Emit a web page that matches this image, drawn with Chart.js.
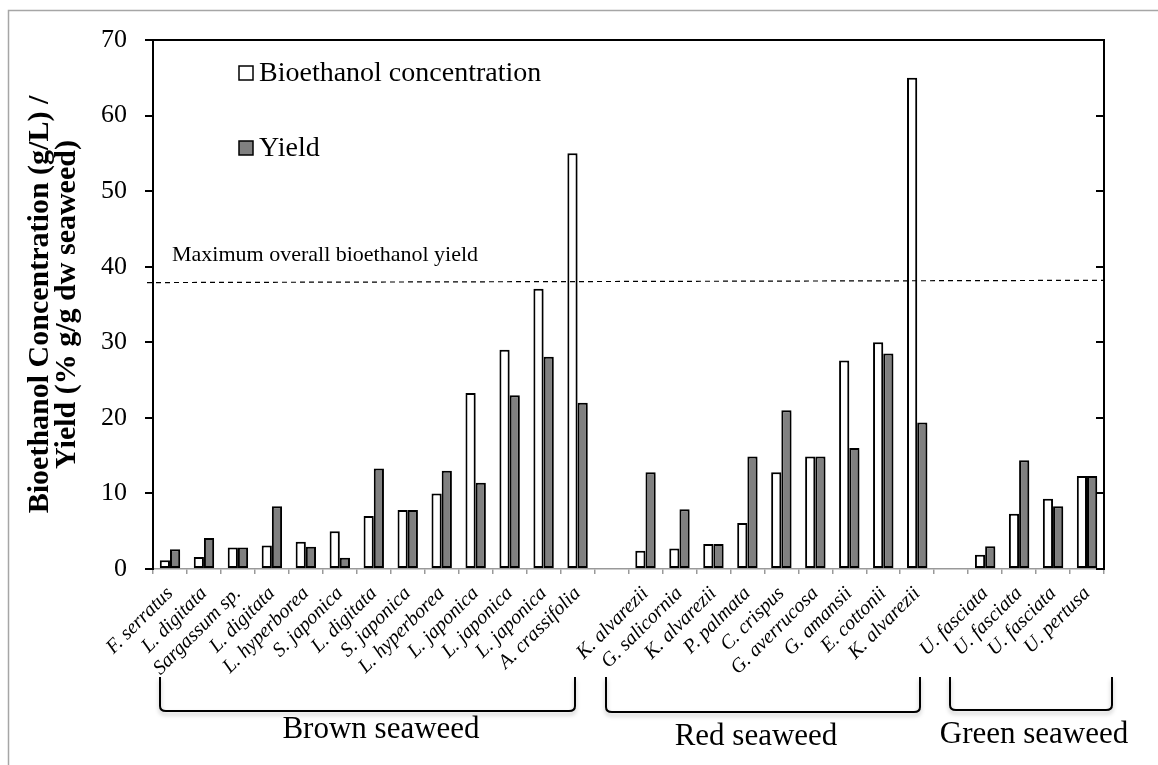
<!DOCTYPE html>
<html>
<head>
<meta charset="utf-8">
<script src="https://cdn.jsdelivr.net/npm/chart.js@4"></script>
<style>
  html, body { margin: 0; padding: 0; background: #fff; }
  canvas { display: block; }
</style>
</head>
<body>
<canvas id="chart" width="1158" height="765"></canvas>
<script>
// species per bar group, '' = spacer between seaweed groups
const categories = ['F. serratus', 'L. digitata', 'Sargassum sp.', 'L. digitata', 'L. hyperborea', 'S. japonica',
  'L. digitata', 'S. japonica', 'L. hyperborea', 'L. japonica', 'L. japonica', 'L. japonica', 'A. crassifolia', '',
  'K. alvarezii', 'G. salicornia', 'K. alvarezii', 'P. palmata', 'C. crispus', 'G. averrucosa', 'G. amansii',
  'E. cottonii', 'K. alvarezii', '',
  'U. fasciata', 'U. fasciata', 'U. fasciata', 'U. pertusa'];
const concentration = [1.15, 1.6, 2.85, 3.1, 3.6, 5.0, 7.0, 7.8, 10.0, 23.3, 29.0, 37.1, 55.0, null,
  2.4, 2.7, 3.3, 6.1, 12.8, 14.9, 27.6, 30.0, 65.0, null,
  1.9, 7.3, 9.3, 12.3];
const yieldPct = [2.6, 4.1, 2.85, 8.3, 2.95, 1.5, 13.3, 7.8, 13.0, 11.4, 23.0, 28.1, 22.0, null,
  12.8, 7.9, 3.3, 14.9, 21.0, 14.9, 16.0, 28.5, 19.4, null,
  3.0, 14.4, 8.3, 12.3];
const yTicks = [0, 10, 20, 30, 40, 50, 60, 70];
const maxYieldLine = [37.9, 38.2]; // left end, right end
const maxYieldLabel = 'Maximum overall bioethanol yield';
const groupNames = ['Brown seaweed', 'Red seaweed', 'Green seaweed'];

const serif = '"Liberation Serif", "Times New Roman", serif';

// brackets under the axis (pixel layout of the decoration)
const braces = [
  { x1: 160, x2: 575, top: 677, bottom: 711, tx: 381, ty: 730 },
  { x1: 606, x2: 920, top: 677, bottom: 712, tx: 756, ty: 737 },
  { x1: 950, x2: 1112, top: 677, bottom: 710, tx: 1034, ty: 735 }
];

const extras = {
  id: 'extras',
  beforeDraw(chart) {
    const c = chart.ctx;
    c.save();
    c.strokeStyle = '#a6a6a6';
    c.lineWidth = 1.5;
    c.beginPath();
    c.moveTo(8.5, 765);
    c.lineTo(8.5, 10.5);
    c.lineTo(1158, 10.5);
    c.stroke();
    c.restore();
  },
  beforeDatasetsDraw(chart) {
    const c = chart.ctx;
    c.save();
    c.shadowColor = 'rgba(0,0,0,0.22)';
    c.shadowBlur = 3;
    c.shadowOffsetX = 2;
    c.shadowOffsetY = 2;
  },
  afterDatasetsDraw(chart) {
    chart.ctx.restore();
  },
  afterDraw(chart) {
    const c = chart.ctx;
    const a = chart.chartArea;
    const y = chart.scales.y;
    c.save();

    // top frame line
    c.strokeStyle = '#000';
    c.lineWidth = 2;
    c.beginPath();
    c.moveTo(a.left, a.top);
    c.lineTo(a.right, a.top);
    c.stroke();

    // inward ticks on the right axis
    yTicks.forEach(v => {
      const py = Math.round(y.getPixelForValue(v));
      c.beginPath();
      c.moveTo(a.right - 8, py);
      c.lineTo(a.right, py);
      c.stroke();
    });

    // dashed max yield line
    c.lineWidth = 1.2;
    c.setLineDash([5, 4]);
    c.beginPath();
    c.moveTo(a.left - 6, y.getPixelForValue(maxYieldLine[0]));
    c.lineTo(a.right, y.getPixelForValue(maxYieldLine[1]));
    c.stroke();
    c.setLineDash([]);

    c.fillStyle = '#000';
    c.font = '22px ' + serif;
    c.textBaseline = 'middle';
    c.textAlign = 'left';
    c.fillText(maxYieldLabel, 172, 255);

    // legend
    const ds = chart.data.datasets;
    [[73, 0], [148, 1]].forEach(([ly, i]) => {
      c.fillStyle = ds[i].backgroundColor;
      c.fillRect(239, ly - 7, 14, 14);
      c.strokeStyle = '#000';
      c.lineWidth = 1.5;
      c.strokeRect(239, ly - 7, 14, 14);
      c.fillStyle = '#000';
      c.font = '28px ' + serif;
      c.fillText(ds[i].label, 259, ly + 1);
    });

    // group brackets
    c.lineWidth = 2;
    c.strokeStyle = '#000';
    c.shadowColor = 'rgba(0,0,0,0.25)';
    c.shadowBlur = 4;
    c.shadowOffsetY = 3;
    braces.forEach(b => {
      c.beginPath();
      c.moveTo(b.x1, b.top);
      c.lineTo(b.x1, b.bottom - 5);
      c.quadraticCurveTo(b.x1, b.bottom, b.x1 + 6, b.bottom);
      c.lineTo(b.x2 - 6, b.bottom);
      c.quadraticCurveTo(b.x2, b.bottom, b.x2, b.bottom - 5);
      c.lineTo(b.x2, b.top);
      c.stroke();
    });
    c.shadowColor = 'transparent';
    c.font = '31px ' + serif;
    c.textAlign = 'center';
    braces.forEach((b, i) => c.fillText(groupNames[i], b.tx, b.ty));
    c.restore();
  }
};

new Chart(document.getElementById('chart'), {
  type: 'bar',
  data: {
    labels: categories,
    datasets: [{
      label: 'Bioethanol concentration',
      data: concentration,
      backgroundColor: '#ffffff',
      borderColor: '#000',
      borderWidth: 2,
      borderSkipped: false
    }, {
      label: 'Yield',
      data: yieldPct,
      backgroundColor: '#808080',
      borderColor: '#000',
      borderWidth: 2,
      borderSkipped: false
    }]
  },
  options: {
    responsive: false,
    devicePixelRatio: 1,
    animation: false,
    layout: { padding: { top: 40, left: 0, right: 0, bottom: 0 } },
    categoryPercentage: 0.6,
    barPercentage: 1.0,
    plugins: { legend: { display: false }, tooltip: { enabled: false } },
    scales: {
      x: {
        grid: { offset: true, drawOnChartArea: false, tickLength: 5, color: '#999', lineWidth: 1.5 },
        border: { color: '#999', width: 1.5 },
        ticks: {
          autoSkip: false, maxRotation: 45, minRotation: 45, padding: 8, color: '#000',
          font: { family: serif, size: 20, style: 'italic' }
        },
        afterFit(s) { s.height = 196; }
      },
      y: {
        min: 0, max: 70,
        afterBuildTicks(s) { s.ticks = yTicks.map(v => ({ value: v })); },
        ticks: { color: '#000', padding: 18, font: { family: serif, size: 26 } },
        grid: { drawOnChartArea: false, tickLength: 8, color: '#000', lineWidth: 2 },
        border: { color: '#000', width: 2 },
        title: {
          display: true,
          text: ['Bioethanol Concentration (g/L) /', 'Yield (% g/g dw seaweed)'],
          color: '#000',
          font: { family: serif, size: 30, weight: 'bold', lineHeight: 0.9 },
          padding: { top: 27, bottom: 0 }
        },
        afterFit(s) { s.width = 153; }
      },
      y2: {
        position: 'right',
        min: 0, max: 70,
        ticks: { display: false },
        grid: { display: false },
        border: { color: '#000', width: 2 },
        afterFit(s) { s.width = 54; }
      }
    }
  },
  plugins: [extras]
});
</script>
</body>
</html>
